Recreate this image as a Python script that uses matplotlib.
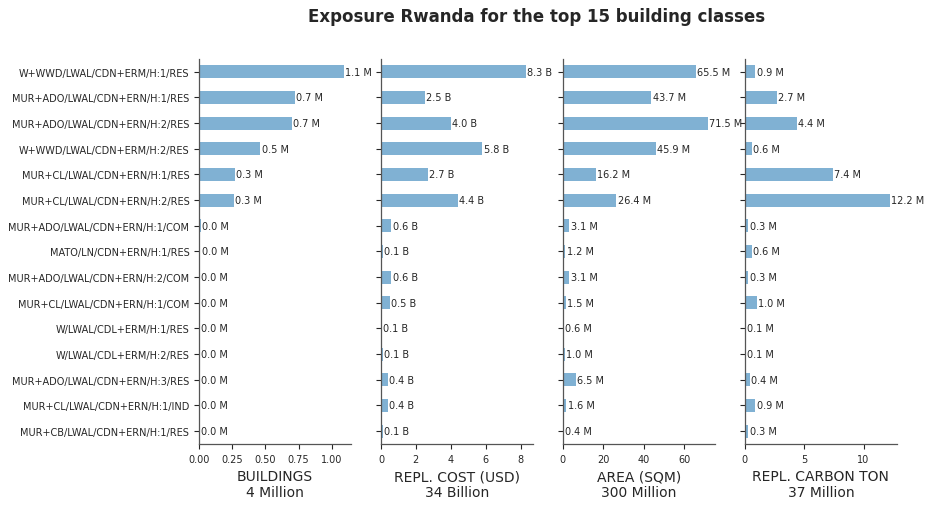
import matplotlib
matplotlib.use("Agg")
import matplotlib.pyplot as plt
import pandas as pd

classes = [
    "W+WWD/LWAL/CDN+ERM/H:1/RES",
    "MUR+ADO/LWAL/CDN+ERN/H:1/RES",
    "MUR+ADO/LWAL/CDN+ERN/H:2/RES",
    "W+WWD/LWAL/CDN+ERM/H:2/RES",
    "MUR+CL/LWAL/CDN+ERN/H:1/RES",
    "MUR+CL/LWAL/CDN+ERN/H:2/RES",
    "MUR+ADO/LWAL/CDN+ERN/H:1/COM",
    "MATO/LN/CDN+ERN/H:1/RES",
    "MUR+ADO/LWAL/CDN+ERN/H:2/COM",
    "MUR+CL/LWAL/CDN+ERN/H:1/COM",
    "W/LWAL/CDL+ERM/H:1/RES",
    "W/LWAL/CDL+ERM/H:2/RES",
    "MUR+ADO/LWAL/CDN+ERN/H:3/RES",
    "MUR+CL/LWAL/CDN+ERN/H:1/IND",
    "MUR+CB/LWAL/CDN+ERN/H:1/RES",
]

# values in millions (cost in billions)
buildings = [1.09, 0.72, 0.70, 0.46, 0.27, 0.26, 0.012, 0.009, 0.007, 0.006, 0.002, 0.002, 0.002, 0.002, 0.001]
repl_cost = [8.3, 2.5, 4.0, 5.8, 2.7, 4.4, 0.6, 0.1, 0.6, 0.5, 0.06, 0.1, 0.4, 0.4, 0.1]
area = [65.5, 43.7, 71.5, 45.9, 16.2, 26.4, 3.1, 1.2, 3.1, 1.5, 0.6, 1.0, 6.5, 1.6, 0.4]
carbon = [0.9, 2.7, 4.4, 0.6, 7.4, 12.2, 0.3, 0.6, 0.3, 1.0, 0.1, 0.1, 0.4, 0.9, 0.3]

columns = ["BUILDINGS\n4 Million", "REPL. COST (USD)\n34 Billion",
           "AREA (SQM)\n300 Million", "REPL. CARBON TON\n37 Million"]
units = ["M", "B", "M", "M"]

df = pd.DataFrame({columns[0]: buildings, columns[1]: repl_cost,
                   columns[2]: area, columns[3]: carbon}, index=classes)

plt.rcParams["font.family"] = "DejaVu Sans"
text_col = "#262626"
plt.rcParams["text.color"] = text_col
plt.rcParams["axes.labelcolor"] = text_col
plt.rcParams["xtick.color"] = text_col
plt.rcParams["ytick.color"] = text_col

fig = plt.figure(figsize=(9.33, 5.10), dpi=100)
left, bottom, width, height, gap = 0.2133, 0.1275, 0.163, 0.755, 0.032

for i, col in enumerate(columns):
    ax = fig.add_axes([left + i * (width + gap), bottom, width, height])
    df[col][::-1].plot.barh(ax=ax, color="#80b1d3", width=0.5)
    bars = ax.containers[0]
    ax.bar_label(bars, labels=[f"{v:.1f} {units[i]}" for v in df[col][::-1]],
                 padding=1, fontsize=7, color=text_col)
    ax.set_xlabel(col, fontsize=10, labelpad=4)
    ax.tick_params(axis="both", labelsize=7, width=0.8, length=3.5)
    if i > 0:
        ax.set_yticklabels([])
    for s in ["top", "right"]:
        ax.spines[s].set_visible(False)
    for s in ["left", "bottom"]:
        ax.spines[s].set_color("#555555")
        ax.spines[s].set_linewidth(0.9)

fig.suptitle("Exposure Rwanda for the top 15 building classes",
             fontsize=12, fontweight="bold", x=0.575, y=0.985)

fig.savefig("out.png", dpi=100)
